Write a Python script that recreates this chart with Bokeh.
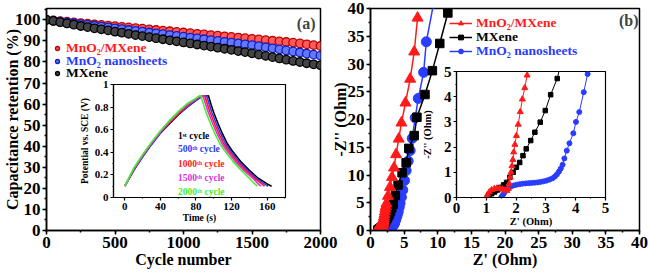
from bokeh.plotting import figure
from bokeh.models import GridBox, Legend, LegendItem, Label, SingleIntervalTicker, Range1d
from bokeh.embed import file_html
from bokeh.resources import INLINE

FONT = "'Liberation Serif', 'Times New Roman', Times, serif"

# ---------------- (a) cycling stability ----------------
cycles = list(range(0, 2001, 50))
ret_mno2_mxene = [100.0, 99.7, 99.4, 99.1, 98.8, 98.5, 98.2, 97.9, 97.6, 97.3,
                  97.0, 96.7, 96.4, 96.1, 95.8, 95.5, 95.2, 94.9, 94.6, 94.3,
                  94.0, 93.7, 93.4, 93.1, 92.8, 92.5, 92.2, 91.9, 91.6, 91.3,
                  91.0, 90.7, 90.4, 90.1, 89.8, 89.5, 89.2, 88.8, 88.4, 88.0,
                  87.6]
ret_mno2_nano = [100.0, 99.6, 99.2, 98.8, 98.4, 98.0, 97.6, 97.2, 96.8, 96.4,
                 96.0, 95.6, 95.2, 94.8, 94.4, 94.0, 93.6, 93.2, 92.8, 92.4,
                 92.0, 91.6, 91.2, 90.8, 90.4, 90.0, 89.6, 89.2, 88.8, 88.4,
                 88.0, 87.5, 87.0, 86.5, 86.0, 85.5, 85.0, 84.5, 84.0, 83.5,
                 83.0]
ret_mxene = [100.0, 99.5, 98.9, 98.3, 97.7, 97.1, 96.6, 96.0, 95.5, 95.0,
             94.4, 93.9, 93.4, 92.8, 92.3, 91.8, 91.3, 90.8, 90.3, 89.8,
             89.3, 88.8, 88.3, 87.8, 87.3, 86.8, 86.3, 85.8, 85.2, 84.7,
             84.1, 83.5, 82.9, 82.3, 81.7, 81.1, 80.5, 80.0, 79.4, 78.9,
             78.4]

# inset (a): galvanostatic charge-discharge
t_c1 = [0, 10, 20, 30, 40, 50, 60, 70, 80, 88, 94, 97, 100, 105, 110, 115, 120, 130, 140, 150, 160, 165]
v_c1 = [0.10, 0.24, 0.36, 0.47, 0.57, 0.65, 0.73, 0.80, 0.86, 0.90, 0.90, 0.82, 0.75, 0.65, 0.56, 0.48, 0.42, 0.32, 0.24, 0.17, 0.12, 0.10]
t_c500 = [0, 10, 20, 30, 40, 50, 60, 70, 80, 87, 92, 95, 98, 103, 108, 113, 118, 128, 138, 148, 157, 161]
v_c500 = [0.10, 0.24, 0.36, 0.47, 0.57, 0.66, 0.74, 0.80, 0.86, 0.90, 0.90, 0.82, 0.75, 0.65, 0.56, 0.48, 0.42, 0.32, 0.24, 0.17, 0.12, 0.10]
t_c1000 = [0, 10, 20, 30, 40, 50, 60, 70, 80, 86, 90, 93, 96, 101, 106, 111, 116, 126, 136, 146, 154, 157]
v_c1000 = [0.10, 0.25, 0.37, 0.48, 0.58, 0.66, 0.74, 0.81, 0.87, 0.90, 0.90, 0.82, 0.75, 0.65, 0.56, 0.48, 0.42, 0.32, 0.24, 0.17, 0.12, 0.10]
t_c1500 = [0, 10, 20, 30, 40, 50, 60, 70, 80, 85, 88, 91, 94, 99, 104, 109, 114, 124, 134, 144, 150, 153]
v_c1500 = [0.10, 0.25, 0.37, 0.48, 0.58, 0.67, 0.75, 0.82, 0.87, 0.90, 0.90, 0.82, 0.75, 0.65, 0.56, 0.48, 0.42, 0.32, 0.24, 0.17, 0.12, 0.10]
t_c2000 = [0, 10, 20, 30, 40, 50, 60, 70, 80, 84, 85.5, 88.5, 91.5, 96.5, 101.5, 106.5, 111.5, 121.5, 131, 140, 146, 149]
v_c2000 = [0.10, 0.26, 0.38, 0.49, 0.59, 0.68, 0.76, 0.83, 0.88, 0.90, 0.90, 0.82, 0.75, 0.65, 0.56, 0.48, 0.42, 0.32, 0.24, 0.17, 0.12, 0.10]

# ---------------- (b) Nyquist ----------------
zre_mno2_mxene = [1.00, 1.04, 1.10, 1.18, 1.27, 1.36, 1.45, 1.54, 1.62, 1.69, 1.74, 1.77, 1.80, 1.83, 1.86,
                  1.89, 1.92, 1.96, 2.01, 2.07, 2.14, 2.21, 2.29, 2.37, 2.6, 2.9, 3.2, 3.5, 3.8, 4.2,
                  4.6, 5.2, 5.9, 6.5, 7.0]
zim_mno2_mxene = [0.00, 0.12, 0.22, 0.30, 0.35, 0.37, 0.36, 0.33, 0.29, 0.27, 0.35, 0.55, 0.80, 1.00, 1.25,
                  1.50, 1.80, 2.10, 2.45, 2.90, 3.40, 3.90, 4.35, 4.85, 6.2, 7.8, 9.6, 11.3, 13.7, 16.5,
                  19.4, 23.0, 27.3, 32.2, 38.3]
zre_mxene = [1.10, 1.18, 1.28, 1.38, 1.48, 1.58, 1.68, 1.79, 1.90, 2.01, 2.12, 2.23, 2.34, 2.49, 2.63,
             2.81, 2.98, 3.16, 3.38, 3.7, 4.1, 4.7, 5.3, 5.7, 6.5, 6.9, 8.1, 9.2, 10.3, 11.5]
zim_mxene = [0.05, 0.15, 0.22, 0.30, 0.40, 0.50, 0.60, 0.80, 1.00, 1.20, 1.39, 1.66, 1.93, 2.26, 2.59,
             2.99, 3.45, 4.08, 4.72, 6.3, 8.2, 10.4, 12.2, 14.8, 17.1, 20.4, 24.5, 28.8, 33.7, 39.2]
zre_mno2_nano = [1.50, 1.53, 1.57, 1.62, 1.68, 1.75, 1.83, 1.92, 2.02, 2.12, 2.22, 2.32, 2.42, 2.52, 2.62,
                 2.72, 2.82, 2.92, 3.02, 3.12, 3.22, 3.30, 3.37, 3.44, 3.50, 3.56, 3.62, 3.70, 3.79, 3.92,
                 4.01, 4.12, 4.27, 4.40, 4.60, 4.80, 5.05, 5.30, 5.60, 5.90, 6.20, 6.65, 7.10, 7.90, 8.30, 9.40]
zim_mno2_nano = [0.00, 0.06, 0.13, 0.21, 0.30, 0.38, 0.44, 0.48, 0.51, 0.53, 0.55, 0.56, 0.57, 0.58, 0.59,
                 0.60, 0.62, 0.64, 0.67, 0.71, 0.76, 0.83, 0.92, 1.03, 1.15, 1.30, 1.55, 1.86, 2.15, 2.55,
                 3.00, 3.39, 4.18, 4.90, 6.00, 7.30, 9.00, 10.80, 12.50, 14.40, 16.60, 20.30, 23.80, 28.50, 34.00, 41.00]

RED = "#ff1a1a"
BLUE = "#2a3cff"
BLACK = "#000000"
MAGENTA = "#e030d8"
GREEN = "#44f030"


def make_fig(w, h, xr, yr, borders, xint, yint, tick_px, lw, tick_out, transparent=False):
    bl, br, bt, bb = borders
    p = figure(width=w, height=h, x_range=Range1d(*xr), y_range=Range1d(*yr),
               output_backend="svg", toolbar_location=None,
               min_border_left=bl, min_border_right=br, min_border_top=bt, min_border_bottom=bb)
    p.background_fill_color = "white"
    if transparent:
        p.border_fill_alpha = 0
    else:
        p.border_fill_color = "white"
    p.outline_line_color = "black"
    p.outline_line_width = lw
    p.outline_line_alpha = 1
    p.grid.visible = False
    for ax, iv in ((p.xaxis[0], xint), (p.yaxis[0], yint)):
        ax.ticker = SingleIntervalTicker(interval=iv, num_minor_ticks=2)
        ax.axis_line_width = lw
        ax.major_tick_line_width = lw
        ax.minor_tick_line_width = lw
        ax.major_tick_out = tick_out
        ax.major_tick_in = 0
        ax.minor_tick_out = max(1, tick_out - 2)
        ax.minor_tick_in = 0
        ax.major_label_text_font = FONT
        ax.major_label_text_font_style = "bold"
        ax.major_label_text_font_size = f"{tick_px}px"
        ax.major_label_text_color = "black"
        ax.major_label_standoff = 2
        ax.axis_label_text_font = FONT
        ax.axis_label_text_font_style = "bold"
        ax.axis_label_text_color = "black"
        ax.axis_label_standoff = 0
    return p


def titles(p, xt, yt, px, y_standoff):
    p.xaxis.axis_label = xt
    p.xaxis.axis_label_text_font_size = f"{px}px"
    p.yaxis.axis_label = yt
    p.yaxis.axis_label_text_font_size = f"{px}px"
    p.yaxis.axis_label_standoff = y_standoff


def one_legend(p, renderers, text, color, loc, px, gw, gh, standoff):
    lg = Legend(items=[LegendItem(label=text, renderers=renderers)], location=loc,
                padding=0, margin=0, spacing=0, border_line_alpha=0, background_fill_alpha=0,
                label_text_font=FONT, label_text_font_style="bold",
                label_text_font_size=f"{px}px", label_text_color=color,
                glyph_width=gw, glyph_height=gh, label_standoff=standoff, label_height=gh)
    p.add_layout(lg)


# ---- main (a) ----  frame: x 46..320, y 5..230
pa = make_fig(340, 276, (0, 2000), (0, 105.4), (46, 20, 5, 46), 500, 10, 17, 1.5, 4)
titles(pa, "Cycle number", "Capacitance retention (%)", 16, -9)
ra = pa.scatter(cycles, ret_mno2_mxene, marker="circle", size=8.5, fill_color="#ff5a5a", line_color="#c00000", line_width=1.3)
rb = pa.scatter(cycles, ret_mno2_nano, marker="circle", size=8.5, fill_color="#6478ff", line_color="#1020c0", line_width=1.3)
rc = pa.scatter(cycles, ret_mxene, marker="circle", size=8.5, fill_color="#444444", line_color="#000000", line_width=1.3)
one_legend(pa, [ra], "MnO₂/MXene", RED, (6, 174), 13.5, 10, 12, 4)
one_legend(pa, [rb], "MnO₂ nanosheets", BLUE, (6, 161), 13.5, 10, 12, 4)
one_legend(pa, [rc], "MXene", BLACK, (6, 149), 13.5, 10, 12, 4)
pa.add_layout(Label(x=269, y=207, x_units="screen", y_units="screen", text="(a)",
                    text_align="right", text_baseline="middle", text_font=FONT,
                    text_font_style="bold", text_font_size="16px"))

# ---- inset (a) ----  frame: x 113..285, y 84..199
ia = make_fig(219, 153, (-12.7, 180.6), (0, 1.0), (43, 4, 8, 30), 40, 0.2, 11, 1.2, 3, transparent=True)
titles(ia, "Time (s)", "Potential vs. SCE (V)", 9.5, 2)
series_a = [(t_c1, v_c1, BLACK, "1ˢᵗ cycle"), (t_c500, v_c500, BLUE, "500ᵗʰ cycle"),
            (t_c1000, v_c1000, RED, "1000ᵗʰ cycle"), (t_c1500, v_c1500, MAGENTA, "1500ᵗʰ cycle"),
            (t_c2000, v_c2000, GREEN, "2000ᵗʰ cycle")]
leg_y = [56, 43, 28, 14, 0]
for (tt, vv, col, lab), ly in zip(series_a, leg_y):
    ia.line(tt, vv, line_color=col, line_width=1.6)
    lr = ia.line([], [], line_color=col, line_width=3)
    one_legend(ia, [lr], lab, col, (53, ly), 9.5, 7, 10, 5)

# ---- main (b) ----  frame: x 364..639, y 8..233
pb = make_fig(321, 276, (0, 40), (0, 40), (36, 10, 8, 43), 5, 5, 17, 1.5, 4, transparent=True)
titles(pb, "Z' (Ohm)", "-Z'' (Ohm)", 16, -4)
bl_line = pb.line(zre_mno2_nano, zim_mno2_nano, line_color=BLUE, line_width=1.5)
bl_pts = pb.scatter(zre_mno2_nano, zim_mno2_nano, marker="circle", size=10, fill_color=BLUE, line_color=BLUE)
bk_line = pb.line(zre_mxene, zim_mxene, line_color=BLACK, line_width=1.5)
bk_pts = pb.scatter(zre_mxene, zim_mxene, marker="square", size=8.5, fill_color=BLACK, line_color=BLACK)
rd_line = pb.line(zre_mno2_mxene, zim_mno2_mxene, line_color=RED, line_width=1.5)
rd_pts = pb.scatter(zre_mno2_mxene, zim_mno2_mxene, marker="triangle", size=11, fill_color=RED, line_color=RED)
one_legend(pb, [rd_line, rd_pts], "MnO₂/MXene", RED, (79, 199), 13.5, 23, 12, 4)
one_legend(pb, [bk_line, bk_pts], "MXene", BLACK, (79, 185), 13.5, 23, 12, 4)
one_legend(pb, [bl_line, bl_pts], "MnO₂ nanosheets", BLUE, (79, 171), 13.5, 23, 12, 4)
pb.add_layout(Label(x=268, y=210, x_units="screen", y_units="screen", text="(b)",
                    text_align="right", text_baseline="middle", text_font=FONT,
                    text_font_style="bold", text_font_size="16px"))

# ---- inset (b) ----  frame: x 452..605, y 71..197
ib = make_fig(193, 165, (0, 5), (0, 5), (34, 6, 7, 32), 1, 1, 15, 1.2, 3, transparent=True)
titles(ib, "Z' (Ohm)", "-Z'' (Ohm)", 10.5, 8)
ib.line(zre_mno2_nano, zim_mno2_nano, line_color=BLUE, line_width=1)
ib.scatter(zre_mno2_nano, zim_mno2_nano, marker="circle", size=5, fill_color=BLUE, line_color=BLUE)
ib.line(zre_mxene, zim_mxene, line_color=BLACK, line_width=1)
ib.scatter(zre_mxene, zim_mxene, marker="square", size=4.5, fill_color=BLACK, line_color=BLACK)
ib.line(zre_mno2_mxene, zim_mno2_mxene, line_color=RED, line_width=1)
ib.scatter(zre_mno2_mxene, zim_mno2_mxene, marker="triangle", size=6, fill_color=RED, line_color=RED)

grid = GridBox(children=[(pa, 0, 0, 4, 4), (pb, 0, 3, 4, 4), (ia, 2, 1, 1, 1), (ib, 1, 5, 2, 1)],
               rows=["64px", "12px", "153px", "47px"],
               cols=["70px", "219px", "39px", "12px", "78px", "193px", "38px"],
               spacing=0)

open("out.html", "w").write(file_html(grid, INLINE))
